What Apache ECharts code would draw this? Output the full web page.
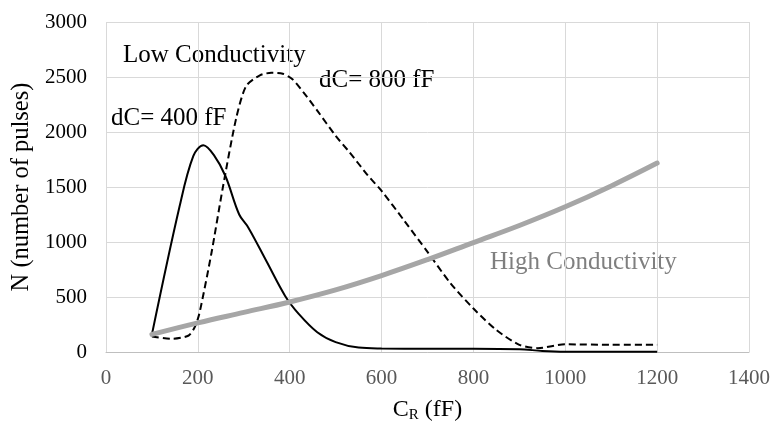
<!DOCTYPE html>
<html>
<head>
<meta charset="utf-8">
<script src="https://cdn.jsdelivr.net/npm/echarts@6/dist/echarts.min.js"></script>
<style>
  html, body { margin: 0; padding: 0; background: #fff; }
  #chart { width: 773px; height: 428px; }
</style>
</head>
<body>
<div id="chart"></div>
<script>
// dC = 400 fF, low conductivity (solid)
var crLow400 = [100, 160, 190, 212, 235, 260, 290, 310, 350, 390, 420, 460, 500, 550, 600, 700, 800, 900, 950, 1000, 1100, 1200];
var nLow400 = [160, 1320, 1780, 1880, 1790, 1600, 1250, 1130, 820, 510, 345, 180, 90, 40, 32, 30, 30, 25, 10, 3, 2, 2];

// dC = 800 fF, low conductivity (dashed)
var crLow800 = [100, 145, 180, 193, 203, 229, 254, 283, 305, 335, 360, 385, 406, 430, 460, 500, 530, 570, 600, 650, 700, 750, 800, 850, 900, 940, 1000, 1100, 1200];
var nLow800 = [140, 120, 150, 225, 345, 886, 1486, 2117, 2417, 2515, 2538, 2530, 2480, 2360, 2195, 1965, 1817, 1606, 1465, 1190, 910, 625, 395, 200, 65, 35, 70, 65, 65];

// high conductivity (grey)
var crHigh = [100, 200, 300, 400, 500, 600, 700, 800, 900, 1000, 1100, 1200];
var nHigh = [160, 265, 360, 455, 565, 695, 840, 995, 1150, 1320, 1510, 1718];

var xTicks = [0, 200, 400, 600, 800, 1000, 1200, 1400];
var yTicks = [0, 500, 1000, 1500, 2000, 2500, 3000];

function pairs(xs, ys) {
  return xs.map(function (x, i) { return [x, ys[i]]; });
}

var font = "'Liberation Serif', 'Times New Roman', serif";
var myChart = echarts.init(document.getElementById("chart"));

var option = {
  backgroundColor: "#ffffff",
  animation: false,
  grid: { left: 106, right: 23, top: 22, bottom: 73 },
  xAxis: {
    type: "value",
    min: xTicks[0],
    max: xTicks[xTicks.length - 1],
    interval: xTicks[1] - xTicks[0],
    name: "{c|C}{r|R}{c| (fF)}",
    nameLocation: "middle",
    nameGap: 44,
    nameTextStyle: {
      rich: {
        c: { fontFamily: font, fontSize: 24, color: "#000" },
        r: { fontFamily: font, fontSize: 15, color: "#000", padding: [12, 0, 0, 0] }
      }
    },
    axisLine: { lineStyle: { color: "#bfbfbf", width: 1 } },
    axisTick: { show: false },
    axisLabel: {
      fontFamily: font, fontSize: 21, color: "#595959", margin: 16,
      formatter: function (v) { return String(v); }
    },
    splitLine: { show: true, lineStyle: { color: "#d9d9d9", width: 1 } }
  },
  yAxis: {
    type: "value",
    min: yTicks[0],
    max: yTicks[yTicks.length - 1],
    interval: yTicks[1] - yTicks[0],
    name: "N (number of pulses)",
    nameLocation: "middle",
    nameGap: 63,
    nameTextStyle: { fontFamily: font, fontSize: 24.5, color: "#000" },
    axisLine: { show: false },
    axisTick: { show: false },
    axisLabel: {
      fontFamily: font, fontSize: 21, color: "#000", margin: 19,
      formatter: function (v) { return String(v); }
    },
    splitLine: { show: true, lineStyle: { color: "#d9d9d9", width: 1 } }
  },
  graphic: [
    { type: "text", left: 123, top: 43, style: { text: "Low Conductivity", font: "25px " + font, fill: "#000" } },
    { type: "text", left: 111, top: 106, style: { text: "dC= 400 fF", font: "25px " + font, fill: "#000" } },
    { type: "text", left: 319, top: 68, style: { text: "dC= 800 fF", font: "25px " + font, fill: "#000" } },
    { type: "text", left: 490, top: 250, style: { text: "High Conductivity", font: "25px " + font, fill: "#7f7f7f" } }
  ],
  series: [
    {
      name: "dC = 400 fF",
      type: "line",
      data: pairs(crLow400, nLow400),
      smooth: 0.35,
      showSymbol: false,
      lineStyle: { color: "#000", width: 2 },
      z: 2
    },
    {
      name: "dC = 800 fF",
      type: "line",
      data: pairs(crLow800, nLow800),
      smooth: 0.25,
      showSymbol: false,
      lineStyle: { color: "#000", width: 2, type: [7, 4] },
      z: 3
    },
    {
      name: "High Conductivity",
      type: "line",
      data: pairs(crHigh, nHigh),
      smooth: 0.4,
      showSymbol: false,
      lineStyle: { color: "#a6a6a6", width: 5, cap: "round" },
      z: 4
    }
  ]
};

myChart.setOption(option);
window.addEventListener("resize", function () {
  myChart.resize();
});
</script>
</body>
</html>
